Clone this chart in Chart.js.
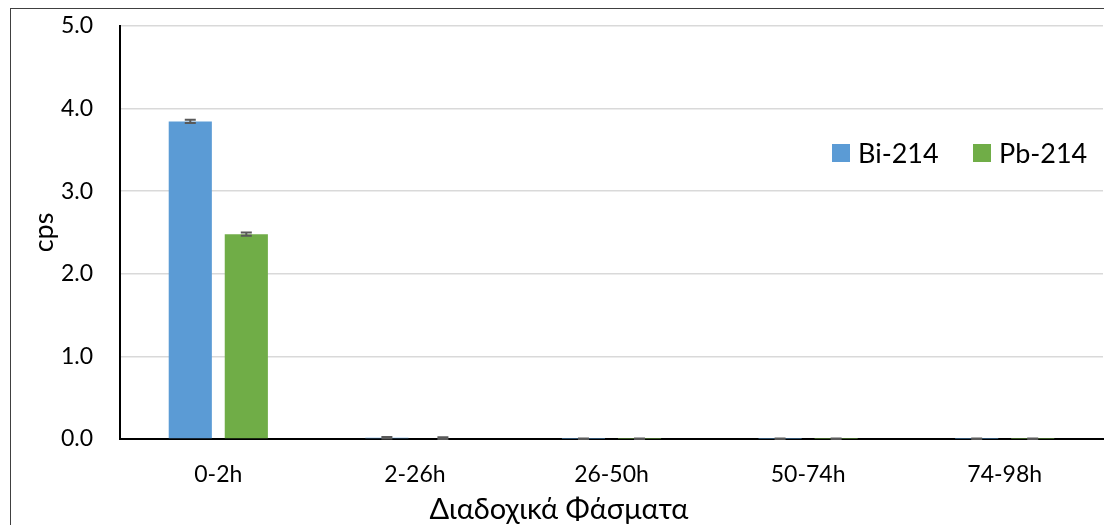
<!DOCTYPE html>
<html>
<head>
<meta charset="utf-8">
<script src="https://cdn.jsdelivr.net/npm/chart.js@4.4.0/dist/chart.umd.min.js"></script>
<style>
  body { margin: 0; background: #fff; overflow: hidden; }
  #wrap { position: relative; width: 1104px; height: 525px; }
  #frame { position: absolute; left: 10px; top: 8px; width: 1200px; height: 600px; border: 1.5px solid #404040; }
  canvas { position: absolute; left: 0; top: 0; }
</style>
</head>
<body>
<div id="wrap">
  <div id="frame"></div>
  <canvas id="chart" width="1104" height="525"></canvas>
</div>
<script>
const categories = ["0-2h", "2-26h", "26-50h", "50-74h", "74-98h"];
const bi214 = [3.845, 0.015, 0.003, 0.003, 0.003];
const bi214Err = [0.02, 0.01, 0.002, 0.002, 0.002];
const pb214 = [2.48, 0.01, 0.003, 0.003, 0.003];
const pb214Err = [0.02, 0.01, 0.002, 0.002, 0.002];
const yTicks = [0, 1, 2, 3, 4, 5];
const xTitle = "Διαδοχικά Φάσματα";

const font = "Lato, 'Open Sans', sans-serif";

// error bars drawn on top of each bar
const errorBars = {
  id: "errorBars",
  afterDatasetsDraw(chart) {
    const ctx = chart.ctx;
    const y = chart.scales.y;
    ctx.save();
    ctx.strokeStyle = "#595959";
    ctx.lineWidth = 2;
    chart.data.datasets.forEach((ds, i) => {
      const meta = chart.getDatasetMeta(i);
      meta.data.forEach((bar, j) => {
        const v = ds.data[j];
        const e = ds.errors[j];
        const top = y.getPixelForValue(v + e);
        const bot = y.getPixelForValue(v - e);
        const x = bar.x;
        ctx.beginPath();
        ctx.moveTo(x, top); ctx.lineTo(x, bot);
        ctx.moveTo(x - 5.5, top); ctx.lineTo(x + 5.5, top);
        ctx.moveTo(x - 5.5, bot); ctx.lineTo(x + 5.5, bot);
        ctx.stroke();
      });
    });
    ctx.restore();
  }
};

// legend inside the plot area + x title centred on the whole chart (like Excel)
const insideLegend = {
  id: "insideLegend",
  afterDraw(chart) {
    const ctx = chart.ctx;
    const pos = [832, 973];
    const yMid = 153;
    ctx.save();
    ctx.font = "27px " + font;
    ctx.textBaseline = "middle";
    chart.data.datasets.forEach((ds, i) => {
      ctx.fillStyle = ds.backgroundColor;
      ctx.fillRect(pos[i], yMid - 9, 18, 18);
      ctx.fillStyle = "#000";
      ctx.fillText(ds.label, pos[i] + 26, yMid + 1);
    });
    ctx.font = "29px " + font;
    ctx.textAlign = "center";
    ctx.textBaseline = "alphabetic";
    ctx.fillText(xTitle, 559, 519);
    ctx.restore();
  }
};

const ctx = document.getElementById("chart").getContext("2d");
const chart = new Chart(ctx, {
  type: "bar",
  data: {
    labels: categories,
    datasets: [
      { label: "Bi-214", data: bi214, errors: bi214Err, backgroundColor: "#5b9bd5", borderWidth: 0 },
      { label: "Pb-214", data: pb214, errors: pb214Err, backgroundColor: "#70ad47", borderWidth: 0 },
    ],
  },
  options: {
    responsive: false,
    animation: false,
    categoryPercentage: 0.57,
    barPercentage: 0.77,
    layout: { padding: { top: 26, right: 1, left: 0, bottom: 0 } },
    plugins: {
      legend: { display: false },
      tooltip: { enabled: false },
    },
    scales: {
      x: {
        afterFit: (s) => { s.height = 86; },
        grid: { display: false, drawTicks: false },
        border: { color: "#000", width: 2 },
        ticks: { color: "#000", font: { family: font, size: 23 }, padding: 22 },
        title: { display: false },
      },
      y: {
        min: 0,
        max: 5,
        afterFit: (s) => { s.width = 120; s.paddingTop = 0; s.paddingBottom = 0; },
        afterBuildTicks: (axis) => { axis.ticks = yTicks.map((v) => ({ value: v })); },
        grid: { color: "#d9d9d9", lineWidth: 1.5, drawTicks: false },
        border: { color: "#000", width: 2 },
        ticks: { color: "#000", font: { family: font, size: 23 }, padding: 27, callback: (v) => v.toFixed(1) },
        title: { display: true, text: "cps", color: "#000", font: { family: font, size: 27 }, padding: { top: 28, bottom: 0 } },
      },
    },
  },
  plugins: [errorBars, insideLegend],
});
</script>
</body>
</html>
